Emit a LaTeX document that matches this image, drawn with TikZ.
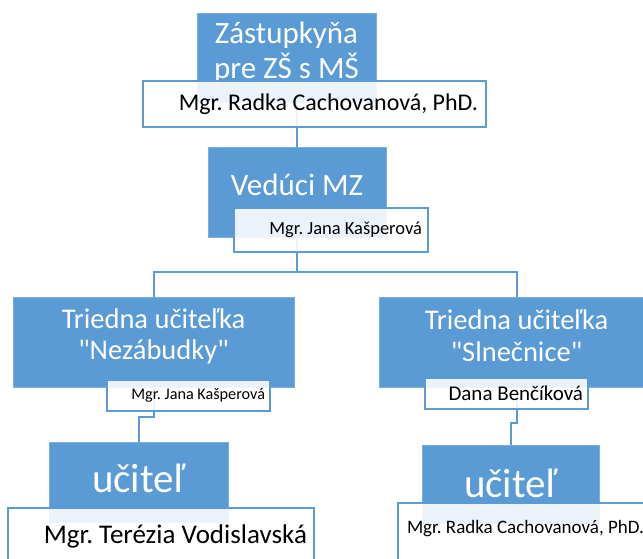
\documentclass[tikz,border=0pt]{standalone}
\usepackage{fontspec}
\setmainfont{Carlito}[Ligatures=TeXOff]
\definecolor{orgblue}{HTML}{5B9BD5}
\tikzset{
  bluebox/.style={fill=orgblue, draw=orgblue!80!white, line width=0.6pt, inner sep=0pt},
  namebox/.style={fill=white, fill opacity=0.88, text opacity=1, draw=orgblue, line width=2pt, inner ysep=0pt, align=flush right},
  title/.style={text=white, align=center, inner sep=0pt, anchor=base},
  conn/.style={draw=orgblue, line width=2pt}
}

\begin{document}
\frenchspacing
\begin{tikzpicture}[x=1pt, y=-1pt]
    \useasboundingbox (0,0) rectangle (643,558);
    \clip (0,0) rectangle (643,558);
    % blue boxes
    \node[bluebox, minimum width=179pt, minimum height=89pt] (zast) at (286.5,57.5) {};
    \node[bluebox, minimum width=178pt, minimum height=90pt] (ved) at (297,192) {};
    \node[bluebox, minimum width=281pt, minimum height=90pt] (nez) at (153.5,342) {};
    \node[bluebox, minimum width=275pt, minimum height=90pt] (sln) at (516.5,342) {};
    \node[bluebox, minimum width=179pt, minimum height=80pt] (uc1) at (138.5,482) {};
    \node[bluebox, minimum width=177pt, minimum height=78pt] (uc2) at (510.5,484) {};
    \node[title, font=\fontsize{31}{35}\selectfont] (zasttext) at (286.5,78) {Zástupkyňa\\pre ZŠ s MŠ};
    \node[title, font=\fontsize{31}{35}\selectfont] (vedtext) at (297,195) {Vedúci MZ};
    \node[title, font=\fontsize{28.5}{31}\selectfont] (neztext) at (153.5,359) {Triedna učiteľka\\"Nezábudky"};
    \node[title, font=\fontsize{28.5}{32}\selectfont] (slntext) at (516.5,361) {Triedna učiteľka\\"Slnečnice"};
    \node[title, font=\fontsize{41}{44}\selectfont] (uc1text) at (138.5,492) {učiteľ};
    \node[title, font=\fontsize{41}{44}\selectfont] (uc2text) at (510.5,497) {učiteľ};
    % connectors
    \coordinate (fork) at (297,272);
    \draw[conn] (ved.north) -- (ved.north |- zast.south) -- ++(0,25);
    \draw[conn] (ved.south) -- (fork);
    \draw[conn] (nez.north) |- (fork) -| (sln.north);
    \draw[conn] (nez.south) -- ++(0,30) -| (uc1.north);
    \draw[conn] (sln.south) -- ++(0,36) -| (uc2.north);
    % name boxes
    \node[namebox, inner xsep=8pt, text width=327pt, minimum height=46pt, font=\fontsize{24}{28}\selectfont] (zastname) at (314.5,104) {Mgr. Radka Cachovanová, PhD.};
    \node[namebox, inner xsep=6pt, text width=182pt, minimum height=44pt, font=\fontsize{18.5}{22}\selectfont] (vedname) at (331,230) {Mgr. Jana Kašperová};
    \node[namebox, inner xsep=5pt, text width=153pt, minimum height=31pt, font=\fontsize{16.2}{19}\selectfont] (nezname) at (188.5,395.5) {Mgr. Jana Kašperová};
    \node[namebox, inner xsep=5pt, text width=153pt, minimum height=31pt, font=\fontsize{21}{24}\selectfont] (slnname) at (506.5,393.5) {Dana Benčíková};
    \node[namebox, inner xsep=7pt, text width=292pt, minimum height=56pt, font=\fontsize{27}{31}\selectfont] (uc1name) at (161,536) {Mgr. Terézia Vodislavská};
    \node[namebox, inner xsep=9pt, text width=244pt, minimum height=62pt, text depth=15pt, align=flush left, font=\fontsize{19}{22}\selectfont] (uc2name) at (529,534) {Mgr. Radka Cachovanová, PhD.};
\end{tikzpicture}
\end{document}
